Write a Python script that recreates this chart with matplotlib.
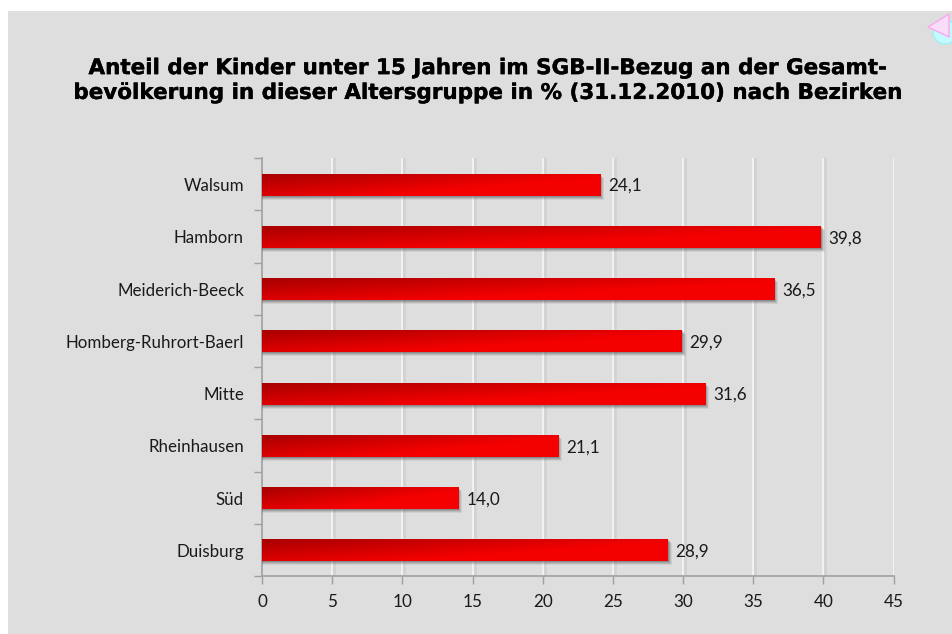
"""
Anteil der Kinder im SGB-II-Bezug nach Bezirken - horizontal bar chart
"""

import matplotlib
matplotlib.use("Agg")
import matplotlib.patheffects as pe
import matplotlib.pyplot as plt
import numpy as np
from matplotlib.colors import LinearSegmentedColormap
from matplotlib.patches import Circle, Polygon, Rectangle

# Data
districts = ["Walsum", "Hamborn", "Meiderich-Beeck", "Homberg-Ruhrort-Baerl",
             "Mitte", "Rheinhausen", "Süd", "Duisburg"]
shares = [24.1, 39.8, 36.5, 29.9, 31.6, 21.1, 14.0, 28.9]
value_labels = ["24,1", "39,8", "36,5", "29,9", "31,6", "21,1", "14,0", "28,9"]
x_ticks = [0, 5, 10, 15, 20, 25, 30, 35, 40, 45]

title_text = ("Anteil der Kinder unter 15 Jahren im SGB-II-Bezug an der Gesamt-\n"
              "bevölkerung in dieser Altersgruppe in % (31.12.2010) nach Bezirken")

W, H = 952, 634
PANEL = "#dedede"
AXIS = "#a0a0a0"
TEXT = "#1a1a1a"

plt.rcParams['font.family'] = ['Lato', 'DejaVu Sans']

fig = plt.figure(figsize=(W / 100, H / 100), dpi=100, facecolor="white")

# Overlay in pixel coordinates for the grey panel and the corner icon
bg = fig.add_axes([0, 0, 1, 1], zorder=0)
bg.set_xlim(0, W)
bg.set_ylim(H, 0)
bg.axis("off")
bg.add_patch(Rectangle((8, 11), W - 8, H - 11, facecolor=PANEL, edgecolor="none"))
bg.add_patch(Circle((945, 32), 12, facecolor="#c4fafd", edgecolor="#9af2fa", lw=1))
bg.add_patch(Polygon([[928, 27], [949, 14], [949, 37]], closed=True,
                     facecolor="#fbdcf8", edgecolor="#f8a8f2", lw=1))

# Plot area
left, right, top, bottom = 262, 893.5, 158, 576
ax = fig.add_axes([left / W, 1 - bottom / H, (right - left) / W, (bottom - top) / H],
                  zorder=1)
ax.patch.set_alpha(0)

px_x = 45 / (right - left)
px_y = len(districts) / (bottom - top)

# Gridlines with a soft shadow on the right
for t in x_ticks[1:]:
    ax.axvline(t + 2 * px_x, color="#d2d2d2", lw=2, zorder=1)
    ax.axvline(t, color="#f4f4f4", lw=1.3, zorder=2)

cmap = LinearSegmentedColormap.from_list("bar_red", ["#a80000", "#f40000"])
bar_h = 22 * px_y

for i, (val, lab) in enumerate(zip(shares, value_labels)):
    yc = i + 0.01
    # blurred drop shadow, built from a few offset layers
    for off, a in [(4, 0.10), (3, 0.16), (2, 0.22), (1, 0.28)]:
        ax.barh(yc + off * px_y, val + off * px_x, height=bar_h, color="#505050", alpha=a,
                edgecolor="none", zorder=3)
    # diagonal gradient clipped to the bar
    bar = ax.barh(yc, val, height=bar_h, color="none", edgecolor="none", zorder=4)[0]
    gx, gy = np.meshgrid(np.linspace(0, 1, 300), np.linspace(0, 1, 30))
    grad = np.clip(0.7 * gy + 0.9 * gx, 0, 1)
    img = ax.imshow(grad, extent=(0, val, yc + bar_h / 2, yc - bar_h / 2), cmap=cmap,
                    vmin=0, vmax=1, aspect="auto", zorder=4, interpolation="bilinear")
    img.set_clip_path(bar)
    ax.text(val + 0.55, yc + 0.025, lab, va="center", ha="left", fontsize=12.3,
            color=TEXT, zorder=5)

# imshow resets limits
ax.set_xlim(0, 45)
ax.set_ylim(len(districts) - 0.5, -0.5)

# Axes
for s in ["top", "right"]:
    ax.spines[s].set_visible(False)
for s in ["left", "bottom"]:
    ax.spines[s].set_color(AXIS)
    ax.spines[s].set_linewidth(1.2)

ax.set_xticks(x_ticks)
ax.set_xticklabels([str(t) for t in x_ticks], fontsize=12.3, color=TEXT)
ax.tick_params(axis="x", length=6, width=1, color=AXIS, pad=7)

ax.set_yticks(np.arange(len(districts) + 1) - 0.5)
ax.set_yticklabels([])
ax.tick_params(axis="y", length=6, width=1, color=AXIS)
for i, name in enumerate(districts):
    ax.annotate(name, xy=(0, i), xycoords=("axes fraction", "data"), xytext=(-13, -1.5),
                textcoords="offset points", ha="right", va="center", fontsize=12.15,
                color=TEXT)

title = fig.text(488 / W, 1 - 80.5 / H, title_text, ha="center", va="center", fontsize=15.45,
                 fontweight="bold", family="DejaVu Sans", color="black", linespacing=1.3)
title.set_path_effects([pe.withStroke(linewidth=0.25, foreground="black")])

fig.savefig("out.png", dpi=100, facecolor=fig.get_facecolor())
plt.close(fig)
